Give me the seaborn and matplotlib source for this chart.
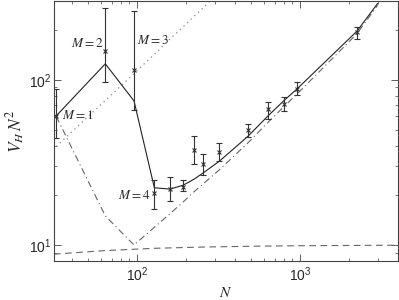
import numpy as np
import pandas as pd
import matplotlib
matplotlib.use("Agg")
import matplotlib.pyplot as plt
import seaborn as sns

# measured values with error bars
n_data = [32, 64, 96, 128, 160, 192, 224, 256, 320, 480, 640, 800, 960, 2240]
v_data = [60.7, 149.6, 114, 20.7, 21.8, 22.6, 37.4, 31, 36.4, 49.4, 66.6, 71.6, 88.3, 195]
v_low = [44.7, 96.8, 65.9, 16.6, 18.4, 21.3, 31, 26.4, 32.1, 45.1, 57.9, 64.4, 81.2, 176.6]
v_high = [88.3, 271, 262, 24.9, 25.9, 24.6, 45.5, 35.7, 41.5, 54.2, 73.9, 78.2, 96.8, 210]

# model curves
n_fit = [32, 64, 96, 128, 160, 192, 224, 256, 320, 480, 640, 800, 960, 2240, 3000]
v_total = [60.5, 125, 74.5, 22.2, 21.8, 23, 25, 27.4, 32.1, 45.5, 60.7, 75, 88, 197, 290]
v_dashdot = [60, 15, 10, 12.8, 15.5, 18.2, 21, 23.5, 28.5, 41.5, 55.5, 69, 82, 190, 283]

n_flat = [31, 64, 128, 256, 512, 1024, 4000]
v_flat = [8.8, 9.25, 9.55, 9.72, 9.83, 9.9, 9.97]

n_dot = [32, 64, 96, 128, 160, 192, 224, 256, 300]
v_dot = [39.5, 75, 109, 143, 177, 209, 242, 274, 318]

labels = ["$M = 1$", "$M = 2$", "$M = 3$", "$M = 4$"]
label_pos = [(34.5, 60.7), (39.5, 167), (100.3, 174), (121, 20.0)]
label_ha = ["left", "left", "left", "right"]

sns.set_style("ticks")
plt.rcParams['font.family'] = ['Liberation Sans', 'DejaVu Sans']
plt.rcParams['mathtext.fontset'] = 'stix'

fig = plt.figure(figsize=(3.99, 3.0), dpi=100)
ax = fig.add_axes([54 / 399, 39 / 300, 344 / 399, 260 / 300])

sns.lineplot(x=n_flat, y=v_flat, ax=ax, color="#666666", lw=0.8,
             linestyle=(0, (6, 4)), estimator=None, sort=False)
sns.lineplot(x=n_fit, y=v_dashdot, ax=ax, color="#666666", lw=0.8,
             linestyle=(0, (6, 3, 1, 3)), estimator=None, sort=False)
sns.lineplot(x=n_dot, y=v_dot, ax=ax, color="#888888", lw=0.9,
             linestyle=(0, (1, 3)), estimator=None, sort=False)
sns.lineplot(x=n_fit, y=v_total, ax=ax, color="#222222", lw=0.8,
             estimator=None, sort=False)

yerr = [np.array(v_data) - np.array(v_low), np.array(v_high) - np.array(v_data)]
ax.errorbar(n_data, v_data, yerr=yerr, fmt='x', color="#333333", ms=3.5,
            mew=0.8, elinewidth=0.8, capsize=2.5, capthick=0.8)

for txt, (x, y), ha in zip(labels, label_pos, label_ha):
    ax.text(x, y, txt, ha=ha, va="center", fontsize=9.5)

ax.set_xscale("log")
ax.set_yscale("log")
ax.set_xlim(31, 4000)
ax.set_ylim(8, 300)
ax.set_xlabel("$N$", fontsize=11, labelpad=1)
ax.set_ylabel("$V_H\\,N^2$", fontsize=12.5, labelpad=1)
ax.tick_params(which="both", direction="in", top=True, right=True,
               labelsize=10, color="#444444")
ax.tick_params(which="major", length=5, width=0.6)
ax.tick_params(which="minor", length=2.5, width=0.5)
ax.tick_params(axis="y", pad=2)
for s in ax.spines.values():
    s.set_linewidth(0.8)
    s.set_color("#444444")

fig.savefig("out.png", dpi=100)
